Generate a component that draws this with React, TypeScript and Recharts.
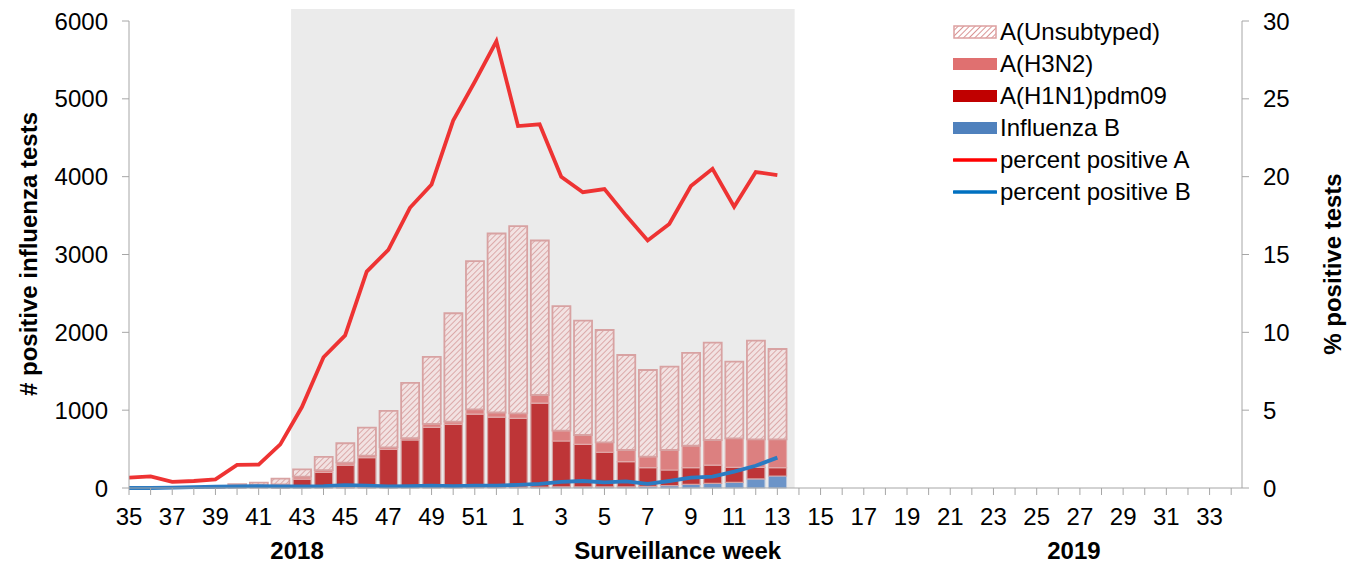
import React from 'react';
import {
  ComposedChart, Bar, Line, XAxis, YAxis, ReferenceArea, Legend, Label,
} from 'recharts';

// surveillance weeks 35/2018 .. 34/2019
const weeks = [
  35, 36, 37, 38, 39, 40, 41, 42, 43, 44, 45, 46, 47, 48, 49, 50, 51, 52,
  1, 2, 3, 4, 5, 6, 7, 8, 9, 10, 11, 12, 13, 14, 15, 16, 17, 18, 19, 20,
  21, 22, 23, 24, 25, 26, 27, 28, 29, 30, 31, 32, 33, 34,
];

// values reported so far (weeks 35 .. 13)
const fluB = [0, 0, 0, 0, 0, 3, 3, 2, 3, 4, 5, 5, 5, 5, 5, 5, 8, 8, 10, 12, 15, 15, 15, 15, 20, 30, 47, 60, 73, 116, 154];
const h1n1 = [2, 2, 2, 3, 3, 15, 22, 30, 112, 196, 290, 385, 492, 612, 775, 813, 942, 902, 885, 1078, 589, 546, 444, 323, 241, 201, 214, 235, 193, 150, 107];
const h3n2 = [1, 1, 1, 1, 2, 5, 10, 15, 30, 30, 30, 25, 25, 25, 45, 35, 60, 60, 65, 105, 132, 120, 128, 150, 141, 257, 282, 322, 372, 359, 364];
const unsubtyped = [2, 2, 2, 3, 5, 27, 33, 73, 95, 170, 250, 360, 468, 708, 860, 1392, 1905, 2300, 2405, 1985, 1602, 1469, 1443, 1221, 1114, 1071, 1192, 1250, 985, 1268, 1161];
const pctA = [0.66, 0.75, 0.39, 0.45, 0.56, 1.48, 1.5, 2.8, 5.2, 8.4, 9.8, 13.9, 15.3, 18.0, 19.5, 23.6, 26.1, 28.7, 23.25, 23.36, 20.0, 19.0, 19.2, 17.5, 15.9, 16.96, 19.4, 20.5, 18.07, 20.3, 20.1];
const pctB = [0, 0, 0.02, 0.05, 0.08, 0.1, 0.12, 0.1, 0.1, 0.12, 0.18, 0.15, 0.1, 0.12, 0.15, 0.12, 0.15, 0.15, 0.2, 0.26, 0.4, 0.45, 0.36, 0.43, 0.26, 0.45, 0.66, 0.73, 1.05, 1.43, 1.95];

const leftTicks = [0, 1000, 2000, 3000, 4000, 5000, 6000];
const rightTicks = [0, 5, 10, 15, 20, 25, 30];

const legendItems = [
  { name: 'A(Unsubtyped)', kind: 'hatch' },
  { name: 'A(H3N2)', kind: 'h3' },
  { name: 'A(H1N1)pdm09', kind: 'h1' },
  { name: 'Influenza B', kind: 'b' },
  { name: 'percent positive A', kind: 'lineA' },
  { name: 'percent positive B', kind: 'lineB' },
];

const FONT = '"Liberation Sans", Arial, sans-serif';
const AXIS = '#A6A6A6';

const data = weeks.map((w, i) => ({
  idx: i,
  week: w,
  fluB: i < fluB.length ? fluB[i] : null,
  h1n1: i < h1n1.length ? h1n1[i] : null,
  h3n2: i < h3n2.length ? h3n2[i] : null,
  unsubtyped: i < unsubtyped.length ? unsubtyped[i] : null,
  pctA: i < pctA.length ? pctA[i] : null,
  pctB: i < pctB.length ? pctB[i] : null,
}));

const Swatch = ({ kind }: { kind: string }) => (
  <svg width={44} height={14} style={{ marginRight: 3, flex: 'none' }}>
    <defs>
      <pattern id="hatchLegend" width={4} height={4} patternUnits="userSpaceOnUse" patternTransform="rotate(45)">
        <rect width={4} height={4} fill="#ffffff" />
        <line x1={0} y1={0} x2={0} y2={4} stroke="#D99595" strokeWidth={2} />
      </pattern>
    </defs>
    {kind === 'hatch' && <rect x={1} y={1} width={42} height={12} fill="url(#hatchLegend)" stroke="#DDA0A0" strokeWidth={1.5} />}
    {kind === 'h3' && <rect x={0} y={1} width={44} height={12} fill="#E07070" />}
    {kind === 'h1' && <rect x={0} y={1} width={44} height={12} fill="#C00000" />}
    {kind === 'b' && <rect x={0} y={1} width={44} height={12} fill="#4F81BD" />}
    {kind === 'lineA' && <line x1={1} y1={7} x2={43} y2={7} stroke="#FF0000" strokeWidth={3.5} strokeLinecap="round" />}
    {kind === 'lineB' && <line x1={1} y1={7} x2={43} y2={7} stroke="#0070C0" strokeWidth={3.5} strokeLinecap="round" />}
  </svg>
);

const LegendBox = () => (
  <div style={{ fontFamily: FONT, fontSize: 24, color: '#000' }}>
    {legendItems.map((it) => (
      <div key={it.name} style={{ display: 'flex', alignItems: 'center', height: 32, lineHeight: '32px' }}>
        <Swatch kind={it.kind} />
        <span>{it.name}</span>
      </div>
    ))}
  </div>
);

const WeekLabels = (props: any) => {
  const { x, y, width } = props.viewBox;
  const ty = y + 62;
  const style = { fontFamily: FONT, fontSize: 24, fontWeight: 700, fill: '#000' };
  return (
    <g>
      <text x={x + width * 0.151} y={ty} textAnchor="middle" dominantBaseline="central" style={style}>2018</text>
      <text x={x + width * 0.493} y={ty} textAnchor="middle" dominantBaseline="central" style={style}>Surveillance  week</text>
      <text x={x + width * 0.849} y={ty} textAnchor="middle" dominantBaseline="central" style={style}>2019</text>
    </g>
  );
};

const RotLabel = ({ text, cx, cy }: { text: string; cx: number; cy: number }) => (
  <text
    x={cx}
    y={cy}
    transform={`rotate(-90, ${cx}, ${cy})`}
    textAnchor="middle"
    dominantBaseline="central"
    style={{ fontFamily: FONT, fontSize: 24, fontWeight: 700, fill: '#000' }}
  >
    {text}
  </text>
);

export default function App() {
  const tickStyle = { fill: '#000', fontSize: 24, fontFamily: FONT };
  return (
    <div style={{ position: 'absolute', left: 0, top: 0, width: 1354, height: 566, background: '#fff' }}>
      <ComposedChart
        width={1354}
        height={566}
        data={data}
        margin={{ top: 21, right: 0, bottom: 0, left: 0 }}
        barSize={18}
        barGap={0}
      >
        <defs>
          <pattern id="hatchBar" width={4} height={4} patternUnits="userSpaceOnUse" patternTransform="rotate(45)">
            <rect width={4} height={4} fill="#F2E2E2" />
            <line x1={0} y1={0} x2={0} y2={4} stroke="#D69A9A" strokeWidth={1.6} />
          </pattern>
        </defs>
        <ReferenceArea
          yAxisId="left"
          x1={7.5}
          x2={30.8}
          y1={0}
          y2={6154}
          fill="#EBEBEB"
          fillOpacity={1}
          stroke="none"
          ifOverflow="visible"
        />
        <XAxis
          dataKey="idx"
          type="number"
          domain={[0, 51.5]}
          ticks={weeks.map((_, i) => i)}
          interval={0}
          tickFormatter={(v: number) => (v % 2 === 0 ? String(weeks[v]) : '')}
          height={78}
          tickSize={7}
          tickMargin={13}
          stroke={AXIS}
          tick={tickStyle}
          allowDataOverflow
        >
          <Label content={WeekLabels} />
        </XAxis>
        <YAxis
          yAxisId="left"
          domain={[0, 6000]}
          ticks={leftTicks}
          width={129}
          tickSize={7}
          tickMargin={14}
          stroke={AXIS}
          tick={tickStyle}
        >
          <Label content={() => <RotLabel text="# positive influenza tests" cx={28} cy={254} />} />
        </YAxis>
        <YAxis
          yAxisId="right"
          orientation="right"
          domain={[0, 30]}
          ticks={rightTicks}
          width={112}
          tickSize={7}
          tickMargin={14}
          stroke={AXIS}
          tick={tickStyle}
        >
          <Label content={() => <RotLabel text="% positive tests" cx={1332} cy={264} />} />
        </YAxis>
        <Bar yAxisId="left" dataKey="fluB" stackId="a" fill="#6C94C8" stroke="#B7C6DC" strokeWidth={1} isAnimationActive={false} />
        <Bar yAxisId="left" dataKey="h1n1" stackId="a" fill="#BE3537" stroke="#D4A3A3" strokeWidth={1.2} isAnimationActive={false} />
        <Bar yAxisId="left" dataKey="h3n2" stackId="a" fill="#DC8080" stroke="#E2AAAA" strokeWidth={1.2} isAnimationActive={false} />
        <Bar yAxisId="left" dataKey="unsubtyped" stackId="a" fill="url(#hatchBar)" stroke="#D8A2A2" strokeWidth={1.8} isAnimationActive={false} />
        <Line yAxisId="right" dataKey="pctA" type="linear" stroke="#EE3333" strokeWidth={3.8} dot={false} isAnimationActive={false} />
        <Line yAxisId="right" dataKey="pctB" type="linear" stroke="#2B7BC2" strokeWidth={3.8} dot={false} isAnimationActive={false} />
        <Legend
          layout="vertical"
          align="center"
          verticalAlign="middle"
          content={() => <LegendBox />}
          wrapperStyle={{ top: 16, left: 953, width: 320, height: 200 }}
        />
      </ComposedChart>
    </div>
  );
}
